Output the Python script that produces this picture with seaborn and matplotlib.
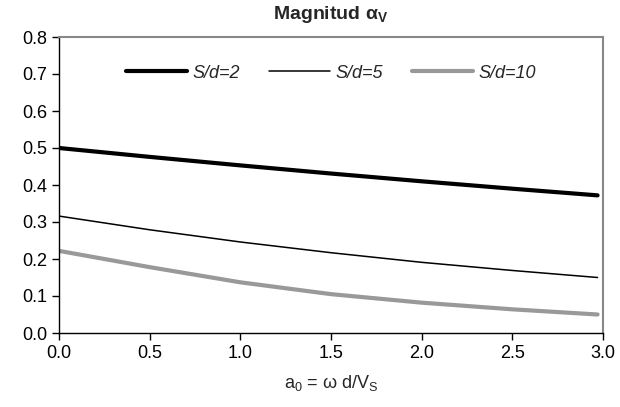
import pandas as pd
import seaborn as sns
import matplotlib.pyplot as plt

# values
a0 = [0.0, 0.5, 1.0, 1.5, 2.0, 2.5, 2.97]
sd2 = [0.500, 0.476, 0.453, 0.431, 0.410, 0.390, 0.372]
sd5 = [0.316, 0.279, 0.246, 0.217, 0.191, 0.169, 0.150]
sd10 = [0.222, 0.178, 0.137, 0.105, 0.082, 0.064, 0.050]
labels = ['S/d=2', 'S/d=5', 'S/d=10']

df = pd.DataFrame({'a0': a0 * 3,
                   'mag': sd2 + sd5 + sd10,
                   'serie': [labels[0]] * 7 + [labels[1]] * 7 + [labels[2]] * 7})

sns.set_style('ticks')
plt.rcParams['font.family'] = ['Liberation Sans', 'DejaVu Sans']
plt.rcParams['mathtext.default'] = 'regular'

fs = 13
fig = plt.figure(figsize=(6.2, 4.07), dpi=100)
ax = fig.add_axes([59 / 620, 1 - 333 / 407, 544 / 620, 296 / 407])

styles = {'S/d=2': ('black', 3.0), 'S/d=5': ('black', 1.1), 'S/d=10': ('#999999', 3.0)}
for s in labels:
    sub = df[df['serie'] == s]
    color, lw = styles[s]
    sns.lineplot(data=sub, x='a0', y='mag', color=color, linewidth=lw, label=s, ax=ax)

ax.set_xlim(0, 3)
ax.set_ylim(0, 0.8)
ax.set_xticks([0, 0.5, 1.0, 1.5, 2.0, 2.5, 3.0])
ax.set_yticks([0, 0.1, 0.2, 0.3, 0.4, 0.5, 0.6, 0.7, 0.8])
ax.xaxis.set_major_formatter(plt.FormatStrFormatter('%.1f'))
ax.yaxis.set_major_formatter(plt.FormatStrFormatter('%.1f'))
ax.tick_params(labelsize=fs, length=5, width=1, color='black', labelcolor='black')

for side in ['left', 'bottom']:
    ax.spines[side].set_color('black')
    ax.spines[side].set_linewidth(1)
for side in ['top', 'right']:
    ax.spines[side].set_visible(True)
    ax.spines[side].set_color('#888888')
    ax.spines[side].set_linewidth(1.5)

ax.set_title(r'Magnitud $\alpha_V$', fontsize=14, fontweight='bold', pad=13)
ax.set_xlabel(r'a$_0$ = ω d/V$_S$', fontsize=fs, labelpad=8)
ax.set_ylabel('')

ax.legend(ncol=3, frameon=False, loc='center', bbox_to_anchor=(0.5, 0.878),
          handlelength=3.4, handletextpad=0.3, columnspacing=1.6,
          prop={'style': 'italic', 'size': fs})

fig.savefig('out.png', dpi=100)
